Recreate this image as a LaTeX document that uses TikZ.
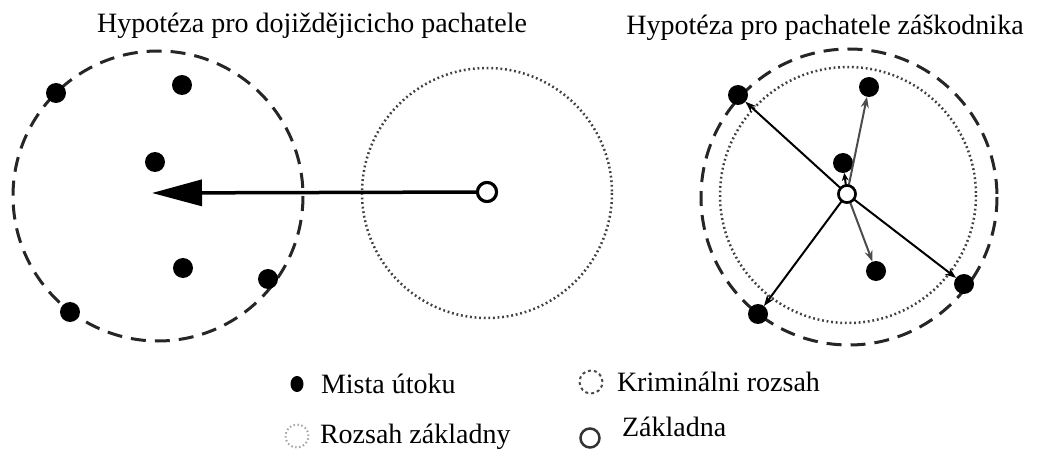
\documentclass[tikz,border=0pt]{standalone}
\usepackage{fontspec}
\setmainfont{Liberation Serif}
\usetikzlibrary{arrows.meta,shapes.geometric}
\begin{document}
\begin{tikzpicture}[x=1pt,y=-1pt,
  every node/.style={inner sep=0pt,outer sep=0pt},
  txt/.style={font=\fontsize{28}{34}\selectfont},
  dot/.style={circle,fill=black,minimum size=20pt},
  basec/.style={circle,draw=black,fill=white,line width=3pt,minimum size=19pt},
  crimrange/.style={draw=black!85,line width=3pt,dash pattern=on 15pt off 9pt},
  baserange/.style={draw=black!75,line width=2.5pt,dash pattern=on 1.8pt off 2.8pt},
  ray/.style={line width=2pt,-{Stealth[length=11pt,width=8pt]}},
  lightray/.style={ray,draw=black!70}]
\useasboundingbox (0,0) rectangle (1037,449);
% titles
\node[txt,anchor=base] (t1) at (312,33) {Hypotéza pro dojiždějicicho pachatele};
\node[txt,anchor=base] (t2) at (825,35) {Hypotéza pro pachatele záškodnika};
% left: commuter
\draw[crimrange] (158,196) circle[radius=145];
\draw[baserange] (487,193) circle[radius=125];
\node[dot] (a1) at (56,93) {};
\node[dot] (a2) at (182,85) {};
\node[dot] (a3) at (155,162) {};
\node[dot] (a4) at (183,268) {};
\node[dot] (a5) at (268,279) {};
\node[dot] (a6) at (70,312) {};
\coordinate (tip) at (152,193);
\node[basec] (b1) at (487,192) {};
\draw[line width=3.5pt,-{Triangle[length=50pt,width=26pt]}] (b1) -- (tip);
\node[basec] at (487,192) {};
% right: marauder
\draw[crimrange] (849,197) circle[radius=148];
\draw[baserange] (848,195) circle[radius=128];
\node[dot] (c1) at (738,95) {};
\node[dot] (c2) at (869,87) {};
\node[dot] (c3) at (843,163) {};
\node[dot] (c4) at (876,271) {};
\node[dot] (c5) at (964,284) {};
\node[dot] (c6) at (758,314) {};
\node[basec,minimum size=17pt,line width=2.5pt] (b2) at (847,194) {};
\draw[ray] (b2) -- (c1);
\draw[lightray] (b2) -- (c2);
\draw[ray,-{Stealth[length=8pt,width=7pt]}] (b2) -- (c3);
\draw[lightray] (b2) -- (c4);
\draw[ray] (b2) -- (c5);
\draw[ray] (b2) -- (c6);
\node[basec,minimum size=17pt,line width=2.5pt] at (847,194) {};
% legend
\node[ellipse,fill=black,minimum width=13pt,minimum height=16pt] (l1) at (297,384) {};
\node[txt,anchor=base west] (l1t) at (321,393) {Mista útoku};
\node[circle,draw=black!70,line width=2pt,dash pattern=on 3pt off 3pt,minimum size=23pt] (l2) at (591,382) {};
\node[txt,anchor=base west] (l2t) at (617,391) {Kriminálni rozsah};
\node[circle,draw=black!35,line width=2pt,dash pattern=on 1.5pt off 2.5pt,minimum size=23pt] (l3) at (297,436) {};
\node[txt,anchor=base west] (l3t) at (320,443) {Rozsah základny};
\node[circle,draw=black!80,line width=2.5pt,minimum size=19pt] (l4) at (590,438) {};
\node[txt,anchor=base west] (l4t) at (622,436) {Základna};
\end{tikzpicture}
\end{document}
